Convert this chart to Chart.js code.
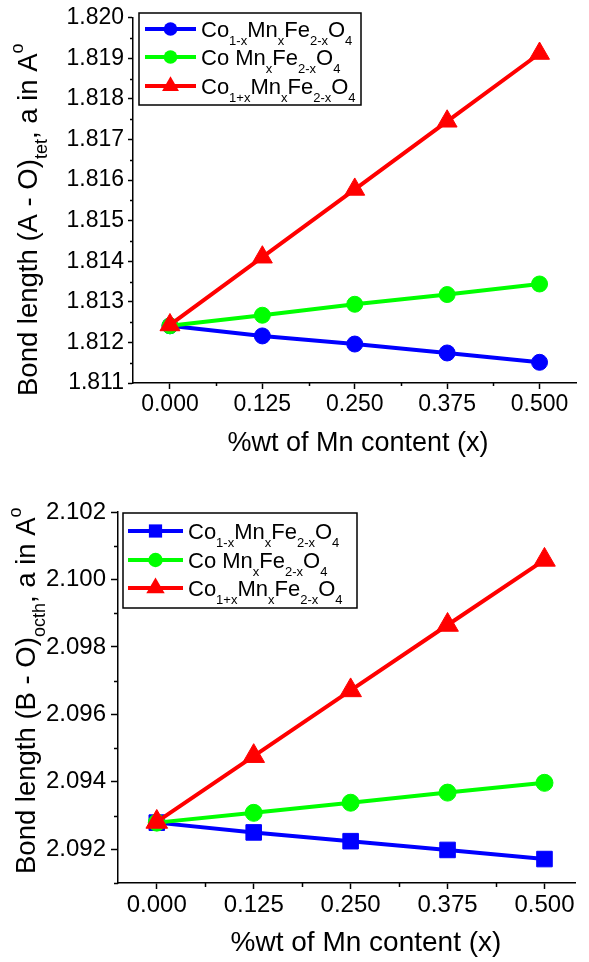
<!DOCTYPE html>
<html>
<head>
<meta charset="utf-8">
<script src="https://cdn.jsdelivr.net/npm/chart.js@4.4.1/dist/chart.umd.min.js"></script>
<style>
  html, body { margin: 0; padding: 0; background: #fff; overflow: hidden; }
  canvas { display: block; }
</style>
</head>
<body>
<canvas id="tet" width="589" height="481"></canvas>
<canvas id="octh" width="589" height="481"></canvas>
<script>
// x = Mn content
const mnContent = [0, 0.125, 0.25, 0.375, 0.5];
const xTickValues = [0, 0.125, 0.25, 0.375, 0.5];
const xMinorValues = [0.0625, 0.1875, 0.3125, 0.4375];

// (A - O) tetrahedral bond length
const tetCoDecreasing = [1.81241, 1.81216, 1.81196, 1.81174, 1.81151];
const tetCoConstant = [1.81241, 1.81267, 1.81294, 1.81318, 1.81344];
const tetCoIncreasing = [1.81243, 1.81410, 1.81577, 1.81745, 1.81912];
const tetYTicks = [1.811, 1.812, 1.813, 1.814, 1.815, 1.816, 1.817, 1.818, 1.819, 1.820];
const tetYMinor = [1.8115, 1.8125, 1.8135, 1.8145, 1.8155, 1.8165, 1.8175, 1.8185, 1.8195];

// (B - O) octahedral bond length
const octhCoDecreasing = [2.09279, 2.09250, 2.09224, 2.09198, 2.09171];
const octhCoConstant = [2.09279, 2.09308, 2.09338, 2.09368, 2.09397];
const octhCoIncreasing = [2.09281, 2.09476, 2.09671, 2.09865, 2.10058];
const octhYTicks = [2.092, 2.094, 2.096, 2.098, 2.100, 2.102];
const octhYMinor = [2.091, 2.093, 2.095, 2.097, 2.099, 2.101];

// text pieces: 0 = normal, 1 = subscript, 2 = superscript
const legendLabels = [
  [['Co', 0], ['1-x', 1], ['Mn', 0], ['x', 1], ['Fe', 0], ['2-x', 1], ['O', 0], ['4', 1]],
  [['Co Mn', 0], ['x', 1], ['Fe', 0], ['2-x', 1], ['O', 0], ['4', 1]],
  [['Co', 0], ['1+x', 1], ['Mn', 0], ['x', 1], ['Fe', 0], ['2-x', 1], ['O', 0], ['4', 1]]
];
const xTitle = '%wt of Mn content (x)';
const tetYTitle = [['Bond length (A - O)', 0], ['tet', 1], [', a in A', 0], ['o', 2]];
const octhYTitle = [['Bond length (B - O)', 0], ['octh', 1], [', a in A', 0], ['o', 2]];

const colors = ['#0000ff', '#00ff00', '#ff0000'];
const FONT = '"Liberation Sans", Arial, sans-serif';

function drawRich(ctx, parts, x, y, size, small) {
  let cx = x;
  parts.forEach(([text, kind]) => {
    const s = kind ? small : size;
    ctx.font = `${s}px ${FONT}`;
    let dy = 0;
    if (kind === 1) dy = size * 0.36;
    if (kind === 2) dy = -size * 0.5;
    ctx.fillText(text, cx, y + dy);
    cx += ctx.measureText(text).width;
  });
}

function drawMarker(ctx, style, x, y, r) {
  ctx.beginPath();
  if (style === 'circle') {
    ctx.arc(x, y, r, 0, Math.PI * 2);
  } else if (style === 'rect') {
    const h = r * Math.SQRT1_2;
    ctx.rect(x - h, y - h, 2 * h, 2 * h);
  } else {
    ctx.moveTo(x, y - r);
    ctx.lineTo(x + r * 0.866, y + r * 0.5);
    ctx.lineTo(x - r * 0.866, y + r * 0.5);
    ctx.closePath();
  }
  ctx.fill();
}

const decorPlugin = {
  id: 'decor',
  afterDraw(chart, args, o) {
    const ctx = chart.ctx;
    const xs = chart.scales.x, ys = chart.scales.y;
    const area = chart.chartArea;
    ctx.save();
    ctx.strokeStyle = '#000';
    ctx.lineWidth = 1.5;
    ctx.beginPath();
    o.xMinor.forEach(v => {
      const px = Math.round(xs.getPixelForValue(v)) + 0.5;
      ctx.moveTo(px, area.bottom);
      ctx.lineTo(px, area.bottom + o.minorLen);
    });
    o.yMinor.forEach(v => {
      const py = Math.round(ys.getPixelForValue(v)) + 0.5;
      ctx.moveTo(area.left, py);
      ctx.lineTo(area.left - o.minorLen, py);
    });
    ctx.stroke();

    // axis titles
    ctx.fillStyle = '#000';
    ctx.textBaseline = 'alphabetic';
    ctx.textAlign = 'center';
    ctx.font = `${o.titleSize}px ${FONT}`;
    ctx.fillText(xTitle, o.xTitleX, o.xTitleY);
    ctx.textAlign = 'left';
    ctx.save();
    ctx.translate(o.yTitleX, o.yTitleY);
    ctx.rotate(-Math.PI / 2);
    drawRich(ctx, o.yTitle, 0, 0, o.yTitleSize, Math.round(o.yTitleSize * 0.65));
    ctx.restore();

    // legend
    const lg = o.legend;
    ctx.fillStyle = '#fff';
    ctx.fillRect(lg.left, lg.top, lg.right - lg.left, lg.bottom - lg.top);
    ctx.strokeStyle = '#000';
    ctx.lineWidth = 1.5;
    ctx.strokeRect(lg.left, lg.top, lg.right - lg.left, lg.bottom - lg.top);
    chart.data.datasets.forEach((ds, i) => {
      const ry = lg.rows[i];
      ctx.strokeStyle = ds.borderColor;
      ctx.lineWidth = 4;
      ctx.beginPath();
      ctx.moveTo(lg.lineFrom, ry);
      ctx.lineTo(lg.lineTo, ry);
      ctx.stroke();
      ctx.fillStyle = ds.borderColor;
      drawMarker(ctx, ds.pointStyle, (lg.lineFrom + lg.lineTo) / 2, ry, ds.pointRadius * 0.85);
      ctx.fillStyle = '#000';
      drawRich(ctx, legendLabels[i], lg.textX, ry + lg.baseShift, lg.size, lg.small);
    });
    ctx.restore();
  }
};

function makeDataset(values, i, style, radius) {
  return {
    data: mnContent.map((x, k) => ({x, y: values[k]})),
    borderColor: colors[i],
    backgroundColor: colors[i],
    borderWidth: 4,
    pointStyle: style,
    pointRadius: radius,
    pointBorderWidth: 1,
    pointBorderColor: colors[i],
    pointBackgroundColor: colors[i],
    order: 2 - i
  };
}

function makeChart(id, cfg) {
  const tickFont = {family: FONT, size: cfg.tickSize};
  return new Chart(document.getElementById(id), {
    type: 'line',
    data: {datasets: cfg.datasets},
    options: {
      responsive: false,
      animation: false,
      events: [],
      layout: {padding: {top: cfg.top, left: 0, right: 0, bottom: 0}},
      plugins: {legend: {display: false}, tooltip: {enabled: false}, decor: cfg.decor},
      scales: {
        x: {
          type: 'linear', min: -0.05, max: cfg.xMax,
          afterBuildTicks: s => { s.ticks = xTickValues.map(v => ({value: v})); },
          afterFit: s => { s.height = cfg.xHeight; },
          ticks: {font: tickFont, color: '#000', padding: 2, maxRotation: 0, autoSkip: false,
            callback: v => v.toFixed(3)},
          grid: {drawOnChartArea: false, tickLength: 6, tickColor: '#000', tickWidth: 1.5},
          border: {color: '#000', width: 1.5}
        },
        y: {
          type: 'linear', min: cfg.yMin, max: cfg.yMax,
          afterBuildTicks: s => { s.ticks = cfg.yTicks.map(v => ({value: v})); },
          afterFit: s => { s.width = cfg.yWidth; },
          ticks: {font: tickFont, color: '#000', padding: cfg.yPad, autoSkip: false,
            callback: v => v.toFixed(3)},
          grid: {drawOnChartArea: false, tickLength: cfg.yTickLen, tickColor: '#000', tickWidth: 1.5},
          border: {color: '#000', width: 1.5}
        }
      }
    },
    plugins: [decorPlugin]
  });
}

makeChart('tet', {
  datasets: [
    makeDataset(tetCoDecreasing, 0, 'circle', 8),
    makeDataset(tetCoConstant, 1, 'circle', 8),
    makeDataset(tetCoIncreasing, 2, 'triangle', 11.5)
  ],
  top: 15, xHeight: 98, yWidth: 133, xMax: 0.55,
  yMin: 1.811, yMax: 1.820, yTicks: tetYTicks, yPad: 4, yTickLen: 5, tickSize: 23,
  decor: {
    xMinor: xMinorValues, yMinor: tetYMinor, minorLen: 3,
    titleSize: 27, yTitleSize: 27.5, xTitleX: 358, xTitleY: 451, yTitleX: 37, yTitleY: 396, yTitle: tetYTitle,
    legend: {left: 139, right: 361, top: 13, bottom: 105, rows: [29, 57, 86],
      lineFrom: 145, lineTo: 196, textX: 201, baseShift: 8, size: 22, small: 13}
  }
});

makeChart('octh', {
  datasets: [
    makeDataset(octhCoDecreasing, 0, 'rect', 11),
    makeDataset(octhCoConstant, 1, 'circle', 8.5),
    makeDataset(octhCoIncreasing, 2, 'triangle', 12.5)
  ],
  top: 31, xHeight: 79, yWidth: 118, xMax: 0.54,
  yMin: 2.091, yMax: 2.102, yTicks: octhYTicks, yPad: 5, yTickLen: 7, tickSize: 24,
  decor: {
    xMinor: xMinorValues, yMinor: octhYMinor, minorLen: 4,
    titleSize: 28, yTitleSize: 27.5, xTitleX: 366, xTitleY: 470, yTitleX: 35, yTitleY: 393, yTitle: octhYTitle,
    legend: {left: 123, right: 357, top: 32, bottom: 127, rows: [50, 79, 107],
      lineFrom: 128, lineTo: 183, textX: 188, baseShift: 8, size: 22, small: 13}
  }
});
</script>
</body>
</html>
